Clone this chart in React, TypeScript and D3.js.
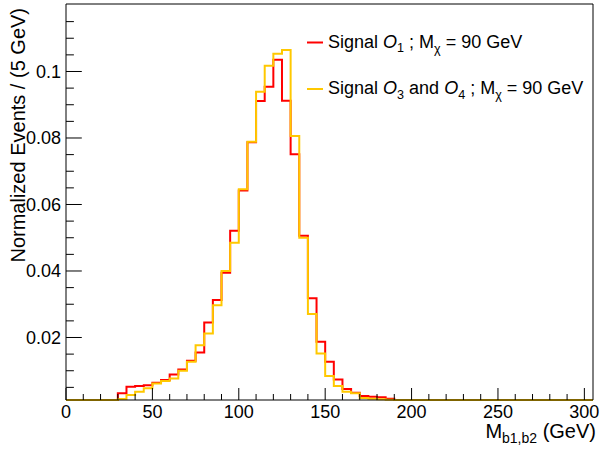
import React from "react";
import * as d3 from "d3";

// Bin width 5 GeV, starting at 0 GeV
const binEdgesStart = 0;
const binWidth = 5;

const signalO1 = [
  0, 0, 0, 0.0002, 0.0005, 0.001,
  0.0032, 0.0052, 0.0054, 0.0056, 0.0064, 0.0072, 0.0089, 0.0104, 0.013, 0.0155,
  0.0245, 0.0313, 0.0395, 0.0521, 0.0642, 0.0787, 0.0911, 0.0954, 0.1035, 0.0912,
  0.0751, 0.0506, 0.0318, 0.0187, 0.0127, 0.0074, 0.0045, 0.0034, 0.0024, 0.0022,
  0.002, 0.0016, 0.0011, 0.0009, 0.0007, 0.0005, 0.0004, 0.0003, 0.0002, 0.0002,
  0.0001, 0.0001, 0.0001, 0, 0, 0, 0, 0, 0, 0, 0, 0, 0, 0, 0,
];

const signalO3O4 = [
  0, 0, 0, 0.0001, 0.0003, 0.0008,
  0.0015, 0.0027, 0.0037, 0.0047, 0.0062, 0.0069, 0.0077, 0.01, 0.0127, 0.0177,
  0.0212, 0.0297, 0.04, 0.0485, 0.0646, 0.0789, 0.0939, 0.1017, 0.1053, 0.1065,
  0.0806, 0.05, 0.0271, 0.0152, 0.0084, 0.0054, 0.0037, 0.0032, 0.0018, 0.0016,
  0.0014, 0.0013, 0.001, 0.0008, 0.0006, 0.0004, 0.0003, 0.0002, 0.0002, 0.0001,
  0.0001, 0, 0, 0, 0, 0, 0, 0, 0, 0, 0, 0, 0, 0, 0,
];

const xMajorTicks = [0, 50, 100, 150, 200, 250, 300];
const yMajorTicks = [0.02, 0.04, 0.06, 0.08, 0.1];
const yTickLabels = ["0.02", "0.04", "0.06", "0.08", "0.1"];

const xDomain: [number, number] = [0, 305];
const yDomain: [number, number] = [0.0012, 0.1203];

const FONT = "'Liberation Sans', Arial, Helvetica, sans-serif";

export default function App() {
  const W = 613;
  const H = 453;
  const left = 66;
  const right = 593;
  const top = 4;
  const bottom = 400;

  const x = d3.scaleLinear().domain(xDomain).range([left, right]);
  const y = d3.scaleLinear().domain(yDomain).range([bottom, top]).clamp(true);

  const toPts = (vals: number[]) => {
    const pts: [number, number][] = vals.map((v, i) => [binEdgesStart + i * binWidth, v]);
    pts.push([binEdgesStart + vals.length * binWidth, vals[vals.length - 1]]);
    return pts;
  };

  const line = d3
    .line<[number, number]>()
    .x((d) => x(d[0]))
    .y((d) => y(d[1]))
    .curve(d3.curveStepAfter);

  const xMinor = d3.range(0, 301, 10).filter((v) => v % 50 !== 0);
  const yMinor = d3
    .range(1, 25)
    .map((i) => +(i * 0.005).toFixed(3))
    .filter((v) => v >= yDomain[0] && v <= yDomain[1] && Math.round(v * 1000) % 20 !== 0);

  const majLenY = 15.8;
  const minLenY = 7.9;
  const majLenX = 12;
  const minLenX = 6;

  const legendItems = [
    { color: "#ff0000", sub1: "1", extra: null as null | string, yLine: 42.5, yText: 47.5 },
    { color: "#ffc800", sub1: "3", extra: "4", yLine: 89, yText: 94 },
  ];

  return (
    <svg
      width={W}
      height={H}
      style={{ position: "fixed", left: 0, top: 0, background: "#fff" }}
      fontFamily={FONT}
    >
      <rect x={0} y={0} width={W} height={H} fill="#fff" />
      {/* histograms */}
      <path d={line(toPts(signalO1)) || ""} fill="none" stroke="#ff0000" strokeWidth={2} />
      <path d={line(toPts(signalO3O4)) || ""} fill="none" stroke="#ffc800" strokeWidth={2} />

      {/* frame */}
      <line x1={left} y1={top} x2={right} y2={top} stroke="#000" strokeWidth={1} />
      <line x1={right} y1={top} x2={right} y2={bottom} stroke="#000" strokeWidth={1} />
      <line x1={left} y1={top} x2={left} y2={bottom} stroke="#000" strokeWidth={1} />
      <line x1={left} y1={bottom} x2={right} y2={bottom} stroke="#000" strokeWidth={1} />

      {/* x ticks */}
      {xMajorTicks.map((t) => (
        <line key={"xM" + t} x1={x(t)} x2={x(t)} y1={bottom} y2={bottom - majLenX} stroke="#000" />
      ))}
      {xMinor.map((t) => (
        <line key={"xm" + t} x1={x(t)} x2={x(t)} y1={bottom} y2={bottom - minLenX} stroke="#000" />
      ))}
      {xMajorTicks.map((t) => (
        <text key={"xl" + t} x={x(t)} y={418} fontSize={18} textAnchor="middle" fill="#000">
          {t}
        </text>
      ))}

      {/* y ticks */}
      {yMajorTicks.map((t) => (
        <line key={"yM" + t} x1={left} x2={left + majLenY} y1={y(t)} y2={y(t)} stroke="#000" />
      ))}
      {yMinor.map((t) => (
        <line key={"ym" + t} x1={left} x2={left + minLenY} y1={y(t)} y2={y(t)} stroke="#000" />
      ))}
      {yMajorTicks.map((t, i) => (
        <text key={"yl" + t} x={61} y={y(t) + 6.5} fontSize={18} textAnchor="end" fill="#000">
          {yTickLabels[i]}
        </text>
      ))}

      {/* axis titles */}
      <text x={596} y={438} fontSize={20} textAnchor="end" fill="#000">
        M
        <tspan fontSize={14} dy={5}>b1,b2</tspan>
        <tspan dy={-5}> (GeV)</tspan>
      </text>
      <text
        transform="translate(25,8) rotate(-90)"
        fontSize={20}
        textAnchor="end"
        fill="#000"
      >
        Normalized Events / (5 GeV)
      </text>

      {/* legend */}
      {legendItems.map((it, i) => (
        <g key={"lg" + i}>
          <line x1={307} x2={323} y1={it.yLine} y2={it.yLine} stroke={it.color} strokeWidth={2} />
          <text x={328} y={it.yText} fontSize={18} fill="#000">
            Signal <tspan fontStyle="italic">O</tspan>
            <tspan fontSize={12.6} dy={4.5}>{it.sub1}</tspan>
            {it.extra ? (
              <>
                <tspan dy={-4.5}> and </tspan>
                <tspan fontStyle="italic">O</tspan>
                <tspan fontSize={12.6} dy={4.5}>{it.extra}</tspan>
              </>
            ) : null}
            <tspan dy={-4.5}> ; M</tspan>
            <tspan fontSize={12.6} dy={5}>χ</tspan>
            <tspan dy={-5}> = 90 GeV</tspan>
          </text>
        </g>
      ))}
    </svg>
  );
}
